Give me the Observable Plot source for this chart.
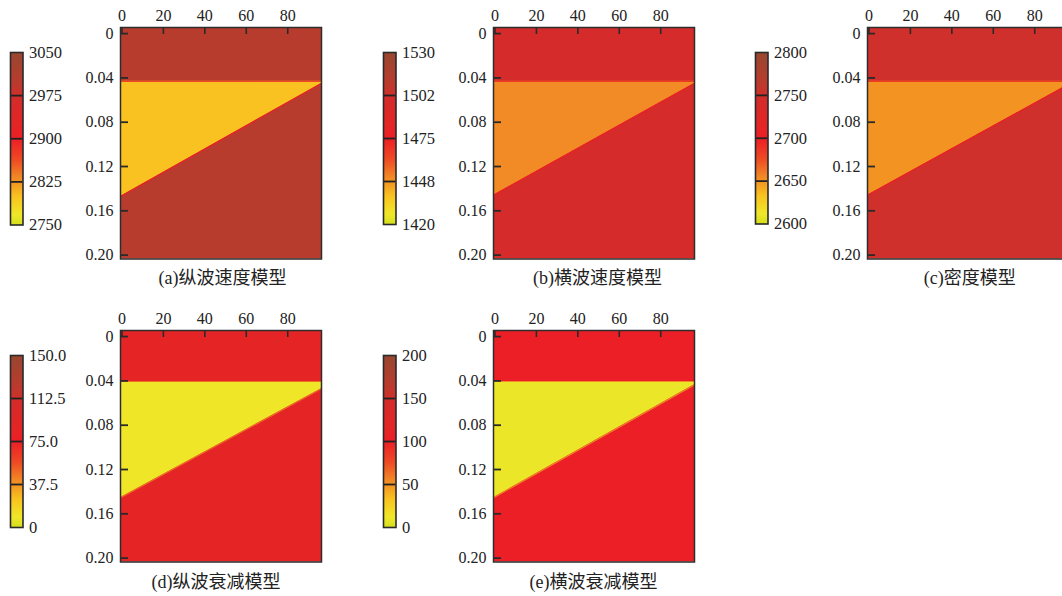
<!DOCTYPE html>
<html>
<head>
<meta charset="utf-8">
<script src="https://cdn.jsdelivr.net/npm/d3@7"></script>
<script src="https://cdn.jsdelivr.net/npm/@observablehq/plot@0.6"></script>
<style>
  body { margin: 0; background: #fff; }
  #root { position: relative; width: 1062px; height: 596px; overflow: hidden;
          font-family: "Times New Roman", "Liberation Serif", "DejaVu Serif", "Noto Sans CJK SC", serif; color: #222; }
  .abs { position: absolute; }
  .title { position: absolute; font-size: 18px; line-height: 1; white-space: nowrap;
           transform: translate(-50%, -50%); color: #222; }
</style>
</head>
<body>
<div id="root"></div>
<script>
// ---------------- data ----------------
const panelTitles = ["(a)纵波速度模型", "(b)横波速度模型", "(c)密度模型", "(d)纵波衰减模型", "(e)横波衰减模型"];
const backgroundValues = [3000, 1500, 2750, 85, 100];
const wedgeValues = [2800, 1450, 2650, 10, 10];
const colorbarMin = [2750, 1420, 2600, 0, 0];
const colorbarMax = [3050, 1530, 2800, 150, 200];
const colorbarTicks = [
  [2750, 2825, 2900, 2975, 3050],
  [1420, 1447.5, 1475, 1502.5, 1530],
  [2600, 2650, 2700, 2750, 2800],
  [0, 37.5, 75, 112.5, 150],
  [0, 50, 100, 150, 200]
];
const colorbarLabels = [
  ["2750", "2825", "2900", "2975", "3050"],
  ["1420", "1448", "1475", "1502", "1530"],
  ["2600", "2650", "2700", "2750", "2800"],
  ["0", "37.5", "75.0", "112.5", "150.0"],
  ["0", "50", "100", "150", "200"]
];
const modelExtentX = [-0.7, 96.3];
const modelExtentY = [-0.0055, 0.2035];
const wedgeX = [-0.7, 96.3];
const wedgeTopDepth = [0.043, 0.043, 0.043, 0.0405, 0.0405];
const wedgeBottomDepth = [[0.147, 0.045], [0.146, 0.045], [0.146, 0.046], [0.1455, 0.047], [0.1455, 0.0435]];
const xTicks = [0, 20, 40, 60, 80];
const yTicks = [0, 0.04, 0.08, 0.12, 0.16, 0.20];
const colorStops = [0, 0.06, 0.167, 0.25, 0.273, 0.38, 0.5, 0.567, 0.727, 0.75, 0.833, 1];
const stopColors = ["#d4de1e", "#efe829", "#f9c220", "#f39322", "#f28a25", "#ee4a24",
                    "#ec1f26", "#e52525", "#d52b2b", "#d0302b", "#b83c2e", "#99472f"];

// ---------------- layout ----------------
const FONT = '"Times New Roman", "Liberation Serif", "DejaVu Serif", "Noto Sans CJK SC", serif';
const frames = [ // left, top of heat-map frame
  [120.3, 26.8], [492.7, 26.5], [867.3, 26.8], [119.5, 330], [492.7, 330]
];
const bars = [ // left, top, bottom of colour bar
  [10, 52, 224.5], [382.5, 52, 224], [755.3, 52, 223.5], [10, 355, 527], [382.5, 355, 527]
];
const titlesPos = [[222.5, 278], [597.5, 278], [969.7, 278], [216, 582], [593.5, 582]];
const FW = 201, FH = 231.5;

const root = document.getElementById("root");

function colorOpts(i) {
  const lo = colorbarMin[i], hi = colorbarMax[i];
  return { type: "linear", domain: colorStops.map(t => lo + t * (hi - lo)), range: stopColors, interpolate: "rgb", clamp: true };
}

function place(el, left, top) {
  el.classList.add("abs");
  el.style.left = left + "px";
  el.style.top = top + "px";
  root.appendChild(el);
}

panelTitles.forEach((title, i) => {
  // ---- heat map ----
  const ML = 45, MT = 27, MR = 2, MB = 2;
  const top = wedgeTopDepth[i];
  const [b0, b1] = wedgeBottomDepth[i];
  const wedge = [
    { x: wedgeX[0], y1: top, y2: b0 },
    { x: wedgeX[1], y1: top, y2: b1 }
  ];
  const edges = [
    { x: wedgeX[0], y: top, z: "top" }, { x: wedgeX[1], y: top, z: "top" },
    { x: wedgeX[0], y: b0, z: "bot" }, { x: wedgeX[1], y: b1, z: "bot" }
  ];
  const mid = (backgroundValues[i] + wedgeValues[i]) / 2;
  const heat = Plot.plot({
    width: ML + FW + MR, height: MT + FH + MB,
    marginLeft: ML, marginTop: MT, marginRight: MR, marginBottom: MB,
    style: { fontFamily: FONT, fontSize: "16px", color: "#222", background: "transparent", overflow: "visible" },
    x: { domain: modelExtentX, label: null },
    y: { domain: modelExtentY, reverse: true, label: null },
    color: colorOpts(i),
    marks: [
      Plot.rect([backgroundValues[i]], {
        x1: () => modelExtentX[0], x2: () => modelExtentX[1],
        y1: () => modelExtentY[0], y2: () => modelExtentY[1], fill: d => d
      }),
      Plot.areaY(wedge, { x: "x", y1: "y1", y2: "y2", fill: () => wedgeValues[i], clip: true }),
      Plot.line(edges, { x: "x", y: "y", z: "z", stroke: () => mid, strokeWidth: 1.1, clip: true }),
      Plot.tickX(xTicks, { x: d => d, insetBottom: FH - 7, stroke: "#2a2a2a", strokeWidth: 1.6 }),
      Plot.tickY(yTicks, { y: d => d, insetRight: FW - 8, stroke: "#2a2a2a", strokeWidth: 1.8 }),
      Plot.frame({ stroke: "#2d2d2d", strokeWidth: 1.5 }),
      Plot.axisX(xTicks, { anchor: "top", tickSize: 0, tickPadding: 7, fontSize: 16, label: null }),
      Plot.axisY(yTicks, { anchor: "left", tickSize: 0, tickPadding: 7, fontSize: 16, label: null,
        tickFormat: d => d === 0 ? "0" : d.toFixed(2) })
    ]
  });
  place(heat, frames[i][0] - ML, frames[i][1] - MT);

  // ---- colour bar ----
  const [bx, by0, by1] = bars[i];
  const BW = 12.5, BH = by1 - by0;
  const lo = colorbarMin[i], hi = colorbarMax[i];
  const labelMap = new Map(colorbarTicks[i].map((t, k) => [t, colorbarLabels[i][k]]));
  const cbML = 2, cbMT = 12, cbMB = 12, cbMR = 60;
  let gradient;
  if (Plot.raster) {
    gradient = Plot.raster({ x1: 0, x2: 1, y1: lo, y2: hi, width: 1, height: 240,
      fill: (x, y) => y, imageRendering: "auto" });
  } else {
    const n = 200, step = (hi - lo) / n;
    const strips = d3.range(n).map(k => ({ y1: lo + k * step, y2: lo + (k + 1) * step, v: lo + (k + 0.5) * step }));
    gradient = Plot.rect(strips, { x1: () => 0, x2: () => 1, y1: "y1", y2: "y2", fill: "v", stroke: "v", strokeWidth: 0.6 });
  }
  const bar = Plot.plot({
    width: cbML + BW + cbMR, height: cbMT + BH + cbMB,
    marginLeft: cbML, marginTop: cbMT, marginRight: cbMR, marginBottom: cbMB,
    style: { fontFamily: FONT, fontSize: "16.5px", color: "#222", background: "transparent", overflow: "visible" },
    x: { domain: [0, 1], axis: null },
    y: { domain: [lo, hi], label: null },
    color: colorOpts(i),
    marks: [
      gradient,
      Plot.ruleY(colorbarTicks[i].slice(1, -1), { stroke: "#222", strokeWidth: 1.8 }),
      Plot.frame({ stroke: "#2a2a2a", strokeWidth: 1.6 }),
      Plot.axisY(colorbarTicks[i], { anchor: "right", tickSize: 0, tickPadding: 6, fontSize: 16.5, label: null,
        tickFormat: d => labelMap.get(d) })
    ]
  });
  place(bar, bx - cbML, by0 - cbMT);

  // ---- title ----
  const t = document.createElement("div");
  t.className = "title";
  t.textContent = title;
  t.style.left = titlesPos[i][0] + "px";
  t.style.top = titlesPos[i][1] + "px";
  root.appendChild(t);
});
</script>
</body>
</html>
